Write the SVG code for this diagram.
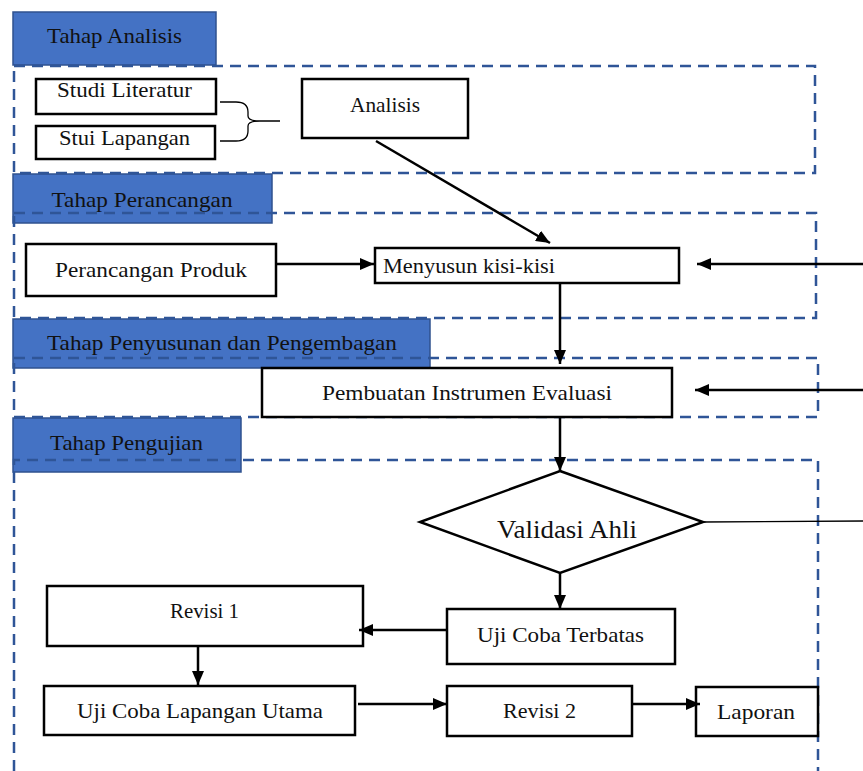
<svg xmlns="http://www.w3.org/2000/svg" width="863" height="771" viewBox="0 0 863 771">
<defs>
<style>
.bg{fill:#ffffff}
.stage rect{fill:#4472C4;stroke:#2F528F;stroke-width:1.5}
.dash{fill:none;stroke:#2F5597;stroke-width:2.5;stroke-dasharray:11 7}
.box{fill:#ffffff;stroke:#000;stroke-width:2.5}
.t{font-family:'Liberation Serif','Times New Roman',serif;font-size:21px;fill:#111;text-anchor:middle}
.tv{font-family:'Liberation Serif','Times New Roman',serif;font-size:26px;fill:#111;text-anchor:middle}
.c{fill:none;stroke:#000;stroke-width:2.5}
.thin{fill:none;stroke:#000;stroke-width:1.3}
</style>
<marker id="ah" markerUnits="userSpaceOnUse" viewBox="0 0 14 12" refX="14" refY="6" markerWidth="14" markerHeight="12" orient="auto">
<path d="M0,0 L14,6 L0,12 z" fill="#000"/>
</marker>
</defs>
<rect class="bg" x="0" y="0" width="863" height="771"/>

<g id="stage-analisis" class="stage">
<rect x="13" y="12" width="203" height="53"/>
<text class="t" x="114.5" y="43" textLength="135" lengthAdjust="spacingAndGlyphs">Tahap Analisis</text>
</g>
<g id="stage-perancangan" class="stage">
<rect x="13" y="174" width="259" height="49"/>
<text class="t" x="142" y="207" textLength="181" lengthAdjust="spacingAndGlyphs">Tahap Perancangan</text>
</g>
<g id="stage-penyusunan" class="stage">
<rect x="13" y="319" width="417" height="49"/>
<text class="t" x="222" y="350" textLength="350" lengthAdjust="spacingAndGlyphs">Tahap Penyusunan dan Pengembagan</text>
</g>
<g id="stage-pengujian" class="stage">
<rect x="13" y="418" width="228" height="54"/>
<text class="t" x="126.5" y="450" textLength="153" lengthAdjust="spacingAndGlyphs">Tahap Pengujian</text>
</g>

<g id="frames">
<path class="dash" d="M14,66 H815 V173 H14 Z"/>
<path class="dash" d="M14,213 H816 V318 H14 Z"/>
<path class="dash" d="M14,358 H818 V417 H14 Z"/>
<path class="dash" d="M14,771 V460 H818 V771"/>
</g>

<g id="studi-literatur">
<rect class="box" x="36" y="79" width="180" height="35"/>
<text class="t" x="124.5" y="97" textLength="135" lengthAdjust="spacingAndGlyphs">Studi Literatur</text>
</g>
<g id="stui-lapangan">
<rect class="box" x="36" y="126" width="179" height="33"/>
<text class="t" x="124.5" y="145" textLength="131" lengthAdjust="spacingAndGlyphs">Stui Lapangan</text>
</g>
<g id="analisis">
<rect class="box" x="302" y="79" width="166" height="59"/>
<text class="t" x="385" y="112" textLength="70" lengthAdjust="spacingAndGlyphs">Analisis</text>
</g>
<g id="perancangan-produk">
<rect class="box" x="26" y="244" width="250" height="52"/>
<text class="t" x="151" y="277" textLength="192" lengthAdjust="spacingAndGlyphs">Perancangan Produk</text>
</g>
<g id="menyusun">
<rect class="box" x="375" y="248" width="304" height="35"/>
<text class="t" x="469" y="273" textLength="172" lengthAdjust="spacingAndGlyphs">Menyusun kisi-kisi</text>
</g>
<g id="pembuatan">
<rect class="box" x="262" y="368" width="410" height="49"/>
<text class="t" x="467" y="400" textLength="290" lengthAdjust="spacingAndGlyphs">Pembuatan Instrumen Evaluasi</text>
</g>
<g id="validasi">
<path class="box" d="M560,471 L703,522 L560,573 L420,522 Z"/>
<text class="tv" x="567" y="538" textLength="140" lengthAdjust="spacingAndGlyphs">Validasi Ahli</text>
</g>
<g id="uji-terbatas">
<rect class="box" x="447" y="609" width="228" height="55"/>
<text class="t" x="560.5" y="642" textLength="167" lengthAdjust="spacingAndGlyphs">Uji Coba Terbatas</text>
</g>
<g id="revisi1">
<rect class="box" x="47" y="586" width="316" height="60"/>
<text class="t" x="204.5" y="618" textLength="69" lengthAdjust="spacingAndGlyphs">Revisi 1</text>
</g>
<g id="uji-utama">
<rect class="box" x="44" y="686" width="311" height="49"/>
<text class="t" x="200" y="718" textLength="246" lengthAdjust="spacingAndGlyphs">Uji Coba Lapangan Utama</text>
</g>
<g id="revisi2">
<rect class="box" x="447" y="686" width="185" height="50"/>
<text class="t" x="539.5" y="718" textLength="73" lengthAdjust="spacingAndGlyphs">Revisi 2</text>
</g>
<g id="laporan">
<rect class="box" x="696" y="687" width="122" height="49"/>
<text class="t" x="756" y="719" textLength="78" lengthAdjust="spacingAndGlyphs">Laporan</text>
</g>

<g id="connectors">
<path class="thin" d="M220,102 H236 Q248,102 248,112 V116 Q248,121 260,121 H280 M260,121 Q248,121 248,126 V131 Q248,141 236,141 H220" stroke-width="1.5"/>
<line class="c" x1="376" y1="141" x2="550" y2="243" marker-end="url(#ah)"/>
<line class="c" x1="276" y1="264" x2="374" y2="264" marker-end="url(#ah)"/>
<line class="c" x1="863" y1="264" x2="697" y2="264" marker-end="url(#ah)"/>
<line class="c" x1="560" y1="283" x2="560" y2="364" marker-end="url(#ah)"/>
<line class="c" x1="863" y1="390" x2="695" y2="390" marker-end="url(#ah)"/>
<line class="c" x1="560" y1="417" x2="560" y2="471" marker-end="url(#ah)"/>
<line class="thin" x1="703" y1="522" x2="863" y2="521"/>
<line class="c" x1="560" y1="573" x2="560" y2="609" marker-end="url(#ah)"/>
<line class="c" x1="447" y1="630" x2="359" y2="630" marker-end="url(#ah)"/>
<line class="c" x1="198" y1="646" x2="198" y2="685" marker-end="url(#ah)"/>
<line class="c" x1="358" y1="704" x2="447" y2="704" marker-end="url(#ah)"/>
<line class="c" x1="632" y1="704" x2="700" y2="704" marker-end="url(#ah)"/>
</g>
</svg>
